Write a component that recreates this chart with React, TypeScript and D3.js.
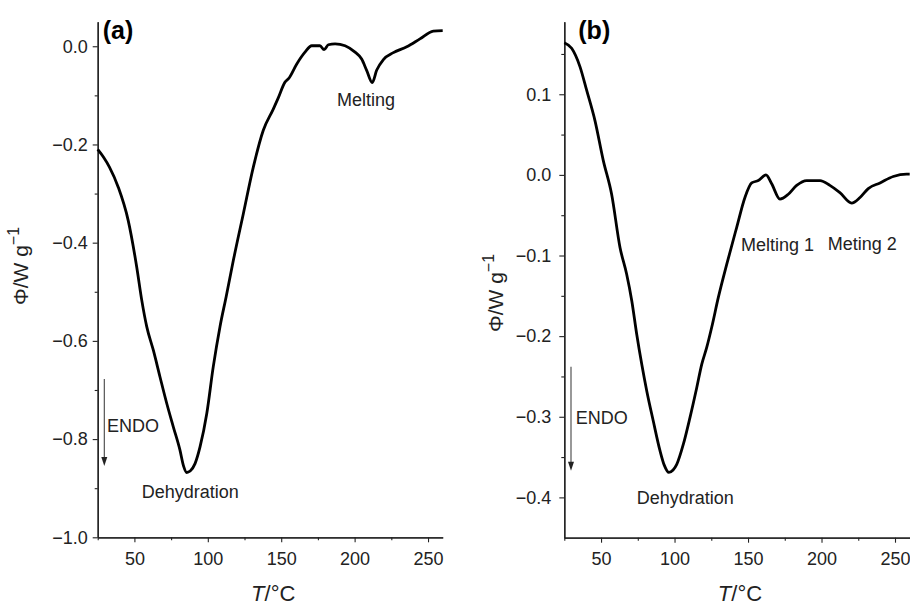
import React, { useEffect, useRef } from 'react'
import * as d3 from 'd3'

// DSC curves: temperature (°C) and heat flow (W/g)
const tempA = [25, 29, 33, 39, 45.8, 51.6, 55, 58.4, 62.9, 67.4, 72, 76.5, 81, 83.5, 85.6, 88, 91.3, 94.7, 99.3, 103.7, 108.3, 112.5, 117.4, 124.2, 131, 137.8, 144.6, 148, 152.6, 155, 160.6, 166.2, 170.8, 176.4, 179.2, 182.1, 186.7, 193.5, 200.3, 204.8, 208.2, 212, 215, 219.6, 226.4, 235.5, 244.5, 253.6, 260]
const phiA = [-0.21, -0.226, -0.246, -0.287, -0.355, -0.45, -0.517, -0.571, -0.619, -0.673, -0.727, -0.775, -0.822, -0.855, -0.868, -0.865, -0.85, -0.816, -0.748, -0.653, -0.571, -0.51, -0.436, -0.341, -0.246, -0.171, -0.128, -0.105, -0.073, -0.066, -0.036, -0.012, 0.001, 0.001, -0.007, 0.003, 0.005, 0.001, -0.012, -0.026, -0.049, -0.074, -0.049, -0.027, -0.013, -0.001, 0.015, 0.031, 0.032]

const tempB = [25, 30, 35.7, 40.2, 45.9, 51.5, 57.2, 62.9, 67.4, 70.9, 74.3, 77.7, 81.1, 85.5, 90.1, 93, 96.2, 99, 101.5, 106, 110.5, 115.1, 118.5, 121.9, 125.3, 129.8, 135.5, 142.3, 147.9, 152.5, 157, 162.2, 166.1, 171.7, 177.4, 183.1, 189.9, 199, 205.7, 212.5, 220.5, 226.2, 231.8, 239.8, 248.8, 257.9, 260]
const phiB = [0.164, 0.157, 0.134, 0.105, 0.067, 0.018, -0.024, -0.09, -0.123, -0.156, -0.198, -0.235, -0.268, -0.305, -0.342, -0.36, -0.369, -0.366, -0.359, -0.334, -0.301, -0.264, -0.235, -0.214, -0.189, -0.152, -0.111, -0.065, -0.028, -0.01, -0.007, 0, -0.011, -0.03, -0.024, -0.013, -0.007, -0.007, -0.013, -0.022, -0.035, -0.028, -0.017, -0.01, -0.002, 0.001, 0.001]

const xTicks = [50, 100, 150, 200, 250]
const xMinor = [25, 75, 125, 175, 225]
const yTicksA = [0, -0.2, -0.4, -0.6, -0.8, -1.0]
const yMinorA = [-0.1, -0.3, -0.5, -0.7, -0.9]
const yTicksB = [0.1, 0, -0.1, -0.2, -0.3, -0.4]
const yMinorB = [0.15, 0.05, -0.05, -0.15, -0.25, -0.35]

const FONT = '"Liberation Sans", Arial, Helvetica, sans-serif'
const INK = '#222'

function drawPanel(svg, p) {
  const g = svg.append('g')
  const x = d3.scaleLinear().domain([25, 260]).range([p.left, p.right])
  const y = d3.scaleLinear().domain(p.yDomain).range([p.bottom, p.top])

  const fmt = d3.format('.1f')

  // x axis
  g.append('g')
    .attr('transform', `translate(0,${p.bottom})`)
    .call(d3.axisBottom(x).tickValues(xTicks).tickSize(5).tickSizeOuter(0).tickPadding(10).tickFormat(d3.format('d')))
  g.append('g')
    .attr('transform', `translate(0,${p.bottom})`)
    .call(d3.axisBottom(x).tickValues(xMinor).tickSize(3).tickSizeOuter(0).tickFormat(() => ''))

  // y axis
  g.append('g')
    .attr('transform', `translate(${p.left},0)`)
    .call(d3.axisLeft(y).tickValues(p.yTicks).tickSize(5).tickSizeOuter(0).tickPadding(p.yPad).tickFormat(fmt))
  g.append('g')
    .attr('transform', `translate(${p.left},0)`)
    .call(d3.axisLeft(y).tickValues(p.yMinor).tickSize(3).tickSizeOuter(0).tickFormat(() => ''))

  g.selectAll('.domain').attr('stroke', INK).attr('stroke-width', 1.3)
  g.selectAll('.tick line').attr('stroke', INK).attr('stroke-width', 1.1)
  g.selectAll('.tick text').attr('fill', INK).style('font-family', FONT).style('font-size', '18px')

  // curve
  const line = d3.line()
    .x((d) => x(d[0]))
    .y((d) => y(d[1]))
    .curve(d3.curveMonotoneX)
  g.append('path')
    .datum(p.temps.map((t, i) => [t, p.phis[i]]))
    .attr('d', line)
    .attr('fill', 'none')
    .attr('stroke', '#000')
    .attr('stroke-width', 2.8)
    .attr('stroke-linejoin', 'round')

  // panel label
  g.append('text')
    .attr('x', p.left + p.labelDx).attr('y', 39)
    .style('font-family', FONT).style('font-size', '25px').style('font-weight', 'bold')
    .attr('fill', '#000')
    .text(p.label)

  // axis titles
  const xt = g.append('text')
    .attr('x', (p.left + p.right) / 2 + 3).attr('y', 601)
    .attr('text-anchor', 'middle')
    .style('font-family', FONT).style('font-size', '22px')
    .attr('fill', INK)
  xt.append('tspan').style('font-style', 'italic').text('T')
  xt.append('tspan').text('/°C')

  const yt = g.append('text')
    .attr('transform', `translate(${p.yTitleX},${p.yTitleY}) rotate(-90)`)
    .attr('text-anchor', 'middle')
    .style('font-family', FONT).style('font-size', '21px')
    .attr('fill', INK)
  yt.append('tspan').text('Φ/W g')
  yt.append('tspan').attr('dy', -9).style('font-size', '16px').text('−1')

  // ENDO arrow
  g.append('line')
    .attr('x1', p.arrowX).attr('x2', p.arrowX)
    .attr('y1', p.arrowY1).attr('y2', p.arrowY2 - 8)
    .attr('stroke', '#444').attr('stroke-width', 1.1)
  g.append('path')
    .attr('d', `M${p.arrowX - 3},${p.arrowY2 - 9} L${p.arrowX + 3},${p.arrowY2 - 9} L${p.arrowX},${p.arrowY2} Z`)
    .attr('fill', INK)

  // annotations
  p.notes.forEach((n) => {
    g.append('text')
      .attr('x', n.x).attr('y', n.y)
      .style('font-family', FONT).style('font-size', '18px')
      .attr('fill', INK)
      .text(n.text)
  })
}

export default function App() {
  const ref = useRef(null)

  useEffect(() => {
    const svg = d3.select(ref.current)
    svg.selectAll('*').remove()

    drawPanel(svg, {
      left: 97.7, right: 442.7, top: 21.7, bottom: 537.3,
      yDomain: [-1.0, 0.05], yTicks: yTicksA, yMinor: yMinorA, yPad: 5,
      temps: tempA, phis: phiA, label: '(a)', labelDx: 5,
      yTitleX: 28, yTitleY: 266,
      arrowX: 104.3, arrowY1: 379, arrowY2: 466,
      notes: [
        { text: 'Melting', x: 337, y: 106 },
        { text: 'ENDO', x: 107, y: 432 },
        { text: 'Dehydration', x: 141.7, y: 498 },
      ],
    })

    drawPanel(svg, {
      left: 564.3, right: 909.7, top: 21.7, bottom: 537.7,
      yDomain: [-0.45, 0.19], yTicks: yTicksB, yMinor: yMinorB, yPad: 8,
      temps: tempB, phis: phiB, label: '(b)', labelDx: 14,
      yTitleX: 503, yTitleY: 293,
      arrowX: 571, arrowY1: 366.7, arrowY2: 470.7,
      notes: [
        { text: 'Melting 1', x: 741, y: 251 },
        { text: 'Meting 2', x: 827.7, y: 250 },
        { text: 'ENDO', x: 575.7, y: 424 },
        { text: 'Dehydration', x: 636.7, y: 504 },
      ],
    })
  }, [])

  return (
    <svg
      ref={ref}
      width={910}
      height={605}
      style={{ position: 'absolute', left: 0, top: 0, background: '#fff' }}
    ></svg>
  )
}
